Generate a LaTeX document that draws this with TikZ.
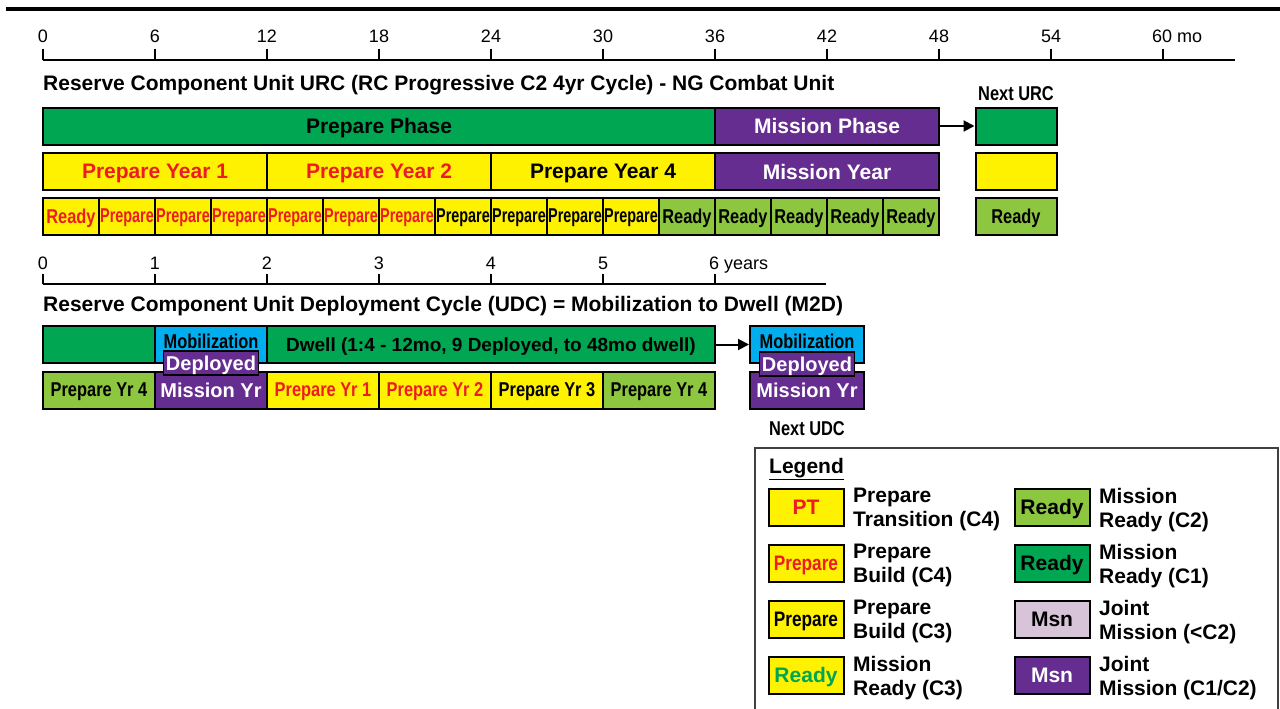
\documentclass[tikz,border=0pt]{standalone}
\usepackage{fontspec}
\setmainfont{Liberation Sans}
\newfontfamily\condfont[FakeStretch=0.72]{Liberation Sans}
\newfontfamily\narrowfont[FakeStretch=0.82]{Liberation Sans}
\usetikzlibrary{arrows.meta, positioning}

\definecolor{dkgreen}{HTML}{00A651}
\definecolor{ltgreen}{HTML}{8DC63F}
\definecolor{ylw}{HTML}{FFF200}
\definecolor{purp}{HTML}{662D91}
\definecolor{mobblue}{HTML}{00AEEF}
\definecolor{rd}{HTML}{ED1C24}
\definecolor{lilac}{HTML}{D8C4D8}

\begin{document}
\begin{tikzpicture}[x=1pt, y=-1pt,
    bar/.style={draw, line width=2pt, inner sep=0pt, minimum height=37pt, text depth=0pt, font=\bfseries\fontsize{21}{25}\selectfont},
    cell/.style={bar, minimum width=56pt, font=\condfont\bfseries\fontsize{20}{24}\selectfont},
    rdycell/.style={cell, font=\narrowfont\bfseries\fontsize{20}{24}\selectfont},
    yrcell/.style={bar, minimum width=112pt, font=\narrowfont\bfseries\fontsize{20}{24}\selectfont},
    ticklbl/.style={anchor=base, inner sep=0pt, font=\fontsize{18}{21}\selectfont},
    title/.style={anchor=base west, inner sep=0pt, font=\bfseries\fontsize{21}{25}\selectfont},
    nextlbl/.style={anchor=base, inner sep=0pt, font=\narrowfont\bfseries\fontsize{20}{24}\selectfont},
    deploy/.style={draw, line width=1.5pt, fill=purp, text=white, inner sep=0pt, minimum width=95pt, minimum height=24pt, text depth=0pt, font=\bfseries\fontsize{20}{24}\selectfont},
    swatch/.style={draw, line width=2pt, inner sep=0pt, minimum width=75pt, minimum height=37pt, text depth=0pt, font=\bfseries\fontsize{21}{25}\selectfont},
    legtext/.style={anchor=north west, align=left, inner sep=0pt, font=\bfseries\fontsize{21}{24}\selectfont},
    flow/.style={line width=2pt, -{Triangle[length=11pt, width=11pt]}}
  ]
  \useasboundingbox (0,0) rectangle (1280,709);

  % heavy rule on top
  \draw[line width=3.5pt] (6,9) -- (1280,9);

  % month scale
  \draw[line width=2pt] (43,60) -- (1235,60);
  \foreach \i [evaluate=\i as \mo using int(6*\i)] in {0,...,9} {
    \draw[line width=2pt] ({43+112*\i},60) -- ({43+112*\i},49);
    \node[ticklbl] (m\i) at ({43+112*\i},43) {\mo};
  }
  \draw[line width=2pt] (1163,60) -- (1163,49);
  \node[ticklbl, anchor=base west] (m10) at (1152,43) {60 mo};

  \node[title] (urctitle) at (43,91) {Reserve Component Unit URC (RC Progressive C2 4yr Cycle) - NG Combat Unit};

  % phases
  \node[bar, minimum width=672pt, fill=dkgreen] (prepphase) at (379,126) {Prepare Phase};
  \node[bar, minimum width=224pt, fill=purp, text=white] (misphase) at (827,126) {Mission Phase};
  \node[bar, minimum width=81pt, fill=dkgreen] (nexturc) at (1016,126) {};
  \node[nextlbl] (nexturclbl) at (1016,100) {Next URC};
  \draw[flow] (misphase.east) -- (nexturc.west);

  % years
  \node[bar, minimum width=224pt, fill=ylw, text=rd] (prepyr1) at (155,171.5) {Prepare Year 1};
  \node[bar, minimum width=224pt, fill=ylw, text=rd] (prepyr2) at (379,171.5) {Prepare Year 2};
  \node[bar, minimum width=224pt, fill=ylw] (prepyr4) at (603,171.5) {Prepare Year 4};
  \node[bar, minimum width=224pt, fill=purp, text=white] (misyear) at (827,171.5) {Mission Year};
  \node[bar, minimum width=81pt, fill=ylw] (nextyear) at (1016,171.5) {};

  % quarters
  \node[rdycell, fill=ylw, text=rd] (q0) at (71,216) {Ready};
  \foreach \k in {1,...,6}
    \node[cell, fill=ylw, text=rd] (q\k) at ({71+56*\k},216) {Prepare};
  \foreach \k in {7,...,10}
    \node[cell, fill=ylw] (q\k) at ({71+56*\k},216) {Prepare};
  \foreach \k in {11,...,15}
    \node[rdycell, fill=ltgreen] (q\k) at ({71+56*\k},216) {Ready};
  \node[rdycell, minimum width=81pt, fill=ltgreen] (nextq) at (1016,216) {Ready};

  % year scale
  \draw[line width=2pt] (43,284) -- (826,284);
  \foreach \i in {0,...,5} {
    \draw[line width=2pt] ({43+112*\i},284) -- ({43+112*\i},274);
    \node[ticklbl] (y\i) at ({43+112*\i},269) {\i};
  }
  \draw[line width=2pt] (715,284) -- (715,274);
  \node[ticklbl, anchor=base west] (y6) at (709,269) {6 years};

  \node[title] (udctitle) at (43,311) {Reserve Component Unit Deployment Cycle (UDC) = Mobilization to Dwell (M2D)};

  % mobilization / dwell
  \node[bar, minimum width=112pt, fill=dkgreen] (predwell) at (99,344.5) {};
  \node[bar, minimum width=112pt, fill=mobblue] (mob) at (211,344.5) {};
  \node[nextlbl] (moblbl) at (211,348) {Mobilization};
  \node[bar, minimum width=448pt, fill=dkgreen, font=\bfseries\fontsize{19}{24}\selectfont] (dwell) at (491,344.5) {Dwell (1:4 - 12mo, 9 Deployed, to 48mo dwell)};
  \node[bar, minimum width=114pt, fill=mobblue] (nextmob) at (807,344.5) {};
  \node[nextlbl] (nextmoblbl) at (807,348) {Mobilization};
  \draw[flow] (dwell.east) -- (nextmob.west);

  % deployment years
  \node[yrcell, fill=ltgreen] (dyr4a) at (99,390) {Prepare Yr 4};
  \node[yrcell, fill=purp, text=white, font=\bfseries\fontsize{20}{24}\selectfont] (msnyr) at (211,390) {Mission Yr};
  \node[yrcell, fill=ylw, text=rd] (dyr1) at (323,390) {Prepare Yr 1};
  \node[yrcell, fill=ylw, text=rd] (dyr2) at (435,390) {Prepare Yr 2};
  \node[yrcell, fill=ylw] (dyr3) at (547,390) {Prepare Yr 3};
  \node[yrcell, fill=ltgreen] (dyr4b) at (659,390) {Prepare Yr 4};
  \node[yrcell, minimum width=114pt, fill=purp, text=white, font=\bfseries\fontsize{20}{24}\selectfont] (nextmsnyr) at (807,390) {Mission Yr};

  \node[deploy] (deployed) at (211,363) {Deployed};
  \node[deploy] (nextdeployed) at (807,364) {Deployed};
  \node[nextlbl] (nextudclbl) at (807,435) {Next UDC};

  % legend
  \draw[line width=1.5pt, black!75] (755,712) -- (755,448) -- (1278,448) -- (1278,712);
  \node[anchor=base west, inner sep=0pt, font=\bfseries\fontsize{21}{24}\selectfont] (legend) at (769,473) {\underline{Legend}};

  \node[swatch, fill=ylw, text=rd] (lpt) at (806,507) {PT};
  \node[legtext] (lpttxt) at (853,488) {Prepare\\Transition (C4)};
  \node[swatch, fill=ylw, text=rd, font=\narrowfont\bfseries\fontsize{21}{25}\selectfont] (lprep4) at (806,563) {Prepare};
  \node[legtext] (lprep4txt) at (853,544) {Prepare\\Build (C4)};
  \node[swatch, fill=ylw, font=\narrowfont\bfseries\fontsize{21}{25}\selectfont] (lprep3) at (806,619) {Prepare};
  \node[legtext] (lprep3txt) at (853,600) {Prepare\\Build (C3)};
  \node[swatch, fill=ylw, text=dkgreen] (lrdy3) at (806,675) {Ready};
  \node[legtext] (lrdy3txt) at (853,656) {Mission\\Ready (C3)};

  \node[swatch, fill=ltgreen] (lrdy2) at (1052,507) {Ready};
  \node[legtext] (lrdy2txt) at (1099,488) {Mission\\Ready (C2)};
  \node[swatch, fill=dkgreen] (lrdy1) at (1052,563) {Ready};
  \node[legtext] (lrdy1txt) at (1099,544) {Mission\\Ready (C1)};
  \node[swatch, fill=lilac] (lmsnlo) at (1052,619) {Msn};
  \node[legtext] (lmsnlotxt) at (1099,600) {Joint\\Mission (<C2)};
  \node[swatch, fill=purp, text=white] (lmsn) at (1052,675) {Msn};
  \node[legtext] (lmsntxt) at (1099,656) {Joint\\Mission (C1/C2)};
\end{tikzpicture}
\end{document}
